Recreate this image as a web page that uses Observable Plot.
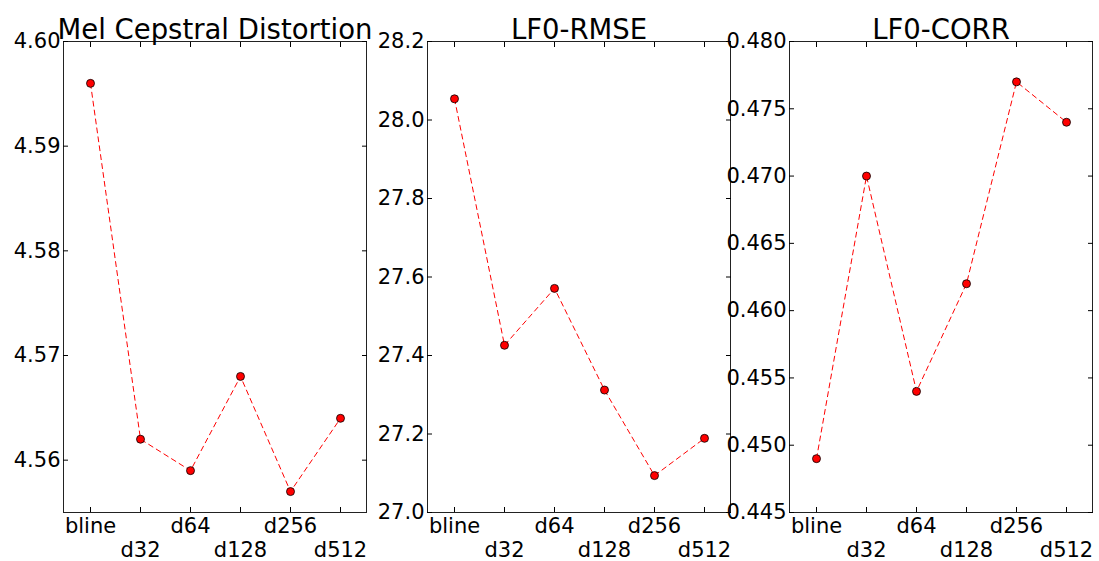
<!DOCTYPE html>
<html>
<head>
<meta charset="utf-8">
<script src="https://cdn.jsdelivr.net/npm/d3@7"></script>
<script src="https://cdn.jsdelivr.net/npm/@observablehq/plot@0.6"></script>
<style>
  html, body { margin: 0; padding: 0; background: white; }
  #wrap { position: relative; width: 1099px; height: 561px; overflow: hidden; background: white; }
  #wrap svg { position: absolute; top: 0; }
</style>
</head>
<body>
<div id="wrap"></div>
<script>
const categories = ["bline", "d32", "d64", "d128", "d256", "d512"];

const melTitle = "Mel Cepstral Distortion";
const melValues = [4.596, 4.562, 4.559, 4.568, 4.557, 4.564];
const melDomain = [4.555, 4.600];
const melTicks = [4.56, 4.57, 4.58, 4.59, 4.60];

const rmseTitle = "LF0-RMSE";
const rmseValues = [28.054, 27.426, 27.571, 27.312, 27.094, 27.189];
const rmseDomain = [27.0, 28.2];
const rmseTicks = [27.0, 27.2, 27.4, 27.6, 27.8, 28.0, 28.2];

const corrTitle = "LF0-CORR";
const corrValues = [0.449, 0.470, 0.454, 0.462, 0.477, 0.474];
const corrDomain = [0.445, 0.480];
const corrTicks = [0.445, 0.450, 0.455, 0.460, 0.465, 0.470, 0.475, 0.480];

function makePanel(title, values, domain, ticks, fmt, left) {
  const data = categories.map((c, i) => ({cat: c, value: values[i]}));
  const svg = Plot.plot({
    width: 370,
    height: 561,
    marginLeft: 63,
    marginRight: 4,
    marginTop: 41,
    marginBottom: 49,
    style: {background: "transparent", overflow: "visible", fontFamily: "DejaVu Sans", fontSize: "21px", color: "black"},
    x: {type: "point", domain: categories, padding: 0.5, label: null},
    y: {domain: domain, label: null},
    marks: [
      Plot.frame({stroke: "#222", strokeWidth: 1}),
      Plot.axisX({anchor: "bottom", tickSize: -5, tickPadding: 8, lineHeight: 1.15,
        tickFormat: d => (categories.indexOf(d) % 2 ? "\n" + d : d), label: null, fontSize: 21}),
      Plot.axisX({anchor: "top", tickSize: -5, tickFormat: () => "", label: null}),
      Plot.axisY({anchor: "left", ticks: ticks, tickSize: -5, tickPadding: 8, tickFormat: d3.format(fmt), label: null, fontSize: 21}),
      Plot.axisY({anchor: "right", ticks: ticks, tickSize: -5, tickFormat: () => "", label: null}),
      Plot.line(data, {x: "cat", y: "value", stroke: "red", strokeWidth: 1, strokeDasharray: "5,4"}),
      Plot.dot(data, {x: "cat", y: "value", r: 4, fill: "red", stroke: "black", strokeWidth: 0.8}),
      Plot.text([title], {frameAnchor: "top", text: d => d, lineAnchor: "bottom", dy: -3, fontSize: 27.5, fill: "black"})
    ]
  });
  svg.style.left = left + "px";
  document.getElementById("wrap").appendChild(svg);
}

makePanel(melTitle, melValues, melDomain, melTicks, ".2f", 0);
makePanel(rmseTitle, rmseValues, rmseDomain, rmseTicks, ".1f", 364);
makePanel(corrTitle, corrValues, corrDomain, corrTicks, ".3f", 726);
</script>
</body>
</html>
